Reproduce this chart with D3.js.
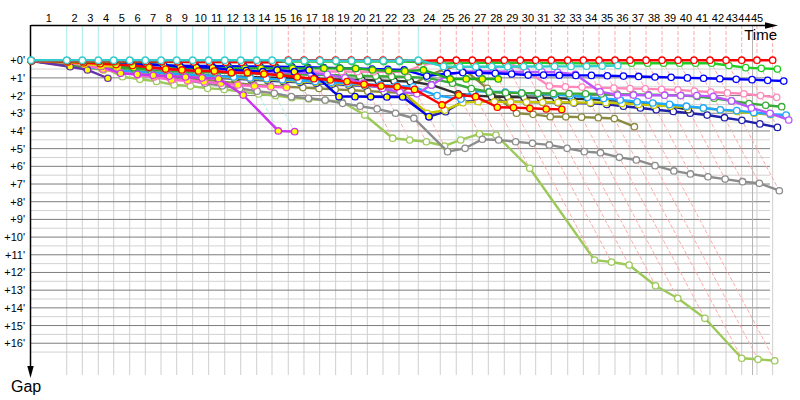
<!DOCTYPE html>
<html><head><meta charset="utf-8">
<script src="https://cdn.jsdelivr.net/npm/d3@7"></script>
<style>body{margin:0;background:#fff} svg{display:block}</style>
</head><body><svg id="c" width="800" height="400"></svg>
<script>
// Leader's cumulative time (minutes) at the end of each lap (index = lap, 0 = start)
const lapEnd = [0, 3.80, 5.46, 7.16, 8.80, 10.50, 12.16, 13.83, 15.50, 17.20, 18.90, 20.61, 22.31, 24.01, 25.64, 27.37, 29.04, 30.71, 32.41, 34.07, 35.78, 37.45, 39.15, 41.20, 43.54, 45.24, 46.95, 48.65, 50.35, 52.05, 53.69, 55.35, 57.10, 58.76, 60.43, 62.13, 63.72, 65.43, 67.13, 68.83, 70.53, 72.23, 73.94, 75.61, 77.23, 78.90];
const raceEnd = 76.76;
const lapLabels = d3.range(1, 46);
const gapTicks = d3.range(0, 17);

// Gap to leader (minutes) per lap, starting at lap 0
const gCyan = [0, 0,0,0,0,0,0,0,0,0,0,0,0,0,0, 0.03,0.03,0.03,0.03,0.03,0.03,0.03,0.03, 0, 0.35, 0.37,0.37,0.36,0.37,0.36,0.36,0.35,0.35,0.34,0.33, 0.3];
const gRed = [0.02, 0.04,0.05,0.06,0.06,0.07,0.08,0.08,0.09,0.1,0.1,0.11,0.11,0.12,0.12, 0,0,0,0,0,0,0,0, 0.05, 0,0,0,0,0,0,0,0,0,0,0,0,0,0,0,0,0,0,0,0,0,0];
const gGreen = [0.02, 0.06,0.08,0.09,0.1,0.1,0.1,0.1,0.1,0.1,0.1,0.1,0.1,0.1,0.1, 0.08,0.08,0.08,0.08,0.08,0.08,0.08,0.08, 0.1, 0.2, 0.15,0.15,0.14,0.14,0.14,0.15,0.16,0.17,0.18,0.18,0.18,0.17,0.17,0.17,0.17,0.17,0.17, 0.3,0.42,0.46,0.5];
const gBlue = [0.03, 0.15,0.2,0.22,0.24,0.26,0.28,0.3,0.31,0.32,0.33,0.34,0.35,0.36,0.37, 0.38,0.4,0.42,0.45,0.47,0.5,0.52,0.55, 0.9, 0.75, 0.7,0.72,0.74,0.78, 0.84,0.84,0.85,0.86,0.86, 0.88,0.9,0.92,0.95,0.97,1.0,1.02, 1.05,1.08,1.1,1.14,1.18];
const gViolet = [0.03, 0.2,0.25,0.3,0.35,0.4,0.45,0.5,0.55,0.58,0.6,0.62,0.64,0.66,0.68, 0.7,0.72, 0.8,1.0,1.3,1.6,1.8,1.9, 1.4, 0.84, 0.65,0.64,0.64,0.65,0.66,0.66,0.68,0.8, 1.78, 1.97,1.97,1.98,1.98,2.0,2.0,2.05, 2.3,2.7,3.0,3.38];
const gPink = [0.03, 0.2,0.25,0.3,0.35,0.4,0.45,0.5,0.52,0.55,0.57,0.59,0.6,0.62,0.62, 0.63,0.63,0.64,0.64,0.65,0.65,0.65,0.66, 0.3, 0.05,0.05,0.05,0.06,0.06, 0.6, 1.46, 1.5,1.52,1.55,1.58,1.6,1.62,1.65,1.68, 1.75,1.8,1.85,1.9,2.0,2.1];
const gGreenY = [0.03, 0.25,0.3,0.35,0.4,0.42,0.44,0.45,0.46,0.46,0.46,0.46,0.46,0.46,0.46, 0.46,0.46,0.46,0.46,0.47,0.55,0.6,0.62, 0.55, 1.06, 1.06,1.06,1.06];
const gDkGreen = [0.03, 0.3,0.35,0.4,0.45,0.5,0.55,0.6,0.65,0.68,0.7,0.72,0.74,0.76,0.78, 0.8,0.82,0.84,0.86,0.88,0.9,0.92,0.95, 1.0, 1.3, 1.6,1.8,1.84,1.86,1.87,1.88,1.89,1.9,1.91,1.92,1.93,1.95,1.97,1.99, 2.05,2.15,2.3,2.45,2.55,2.63];
const gSky = [0.03, 0.3,0.4,0.5,0.6,0.65,0.7,0.75,0.8,0.85,0.9,0.95,1.0,1.05,1.1, 1.15,1.2,1.25,1.3,1.35,1.4,1.45,1.5, 2.0, 2.2, 1.75,1.78,1.8,1.85,1.9,1.95,2.0,2.1,2.16,2.25,2.35,2.42,2.5,2.6,2.7,2.8,2.85,2.95,3.05,3.1];
const gYellow = [0.03, 0.35,0.45,0.55,0.65,0.7,0.75,0.8,0.85,0.9,0.95,1.0,1.05,1.1,1.15,1.2,1.25,1.3,1.35,1.4,1.45,1.5, 3.0, 2.82, 2.4, 2.35,2.35,2.36,2.37,2.38,2.38,2.39,2.4,2.4, 2.45,2.5,2.55,2.6,2.65,2.72,2.8,2.9,3.0,3.08,3.15];
const gNavy = [0.03, 0.3,0.4,0.5,0.6,0.7,0.8,0.85,0.9,0.95,1.0,1.05,1.1,1.15,1.2,1.25,1.3,1.35,1.4,1.45,1.5,1.55, 3.19, 2.91, 2.35, 2.3,2.32,2.34,2.36,2.38,2.4,2.42,2.44,2.5, 2.6,2.7,2.8,2.9,3.0,3.1,3.25,3.4,3.6,3.8];
const gBlack = [0.03, 0.3,0.4,0.5,0.6,0.65,0.7,0.75,0.8,0.85,0.9,0.92,0.95,0.98,1.0,1.02,1.05,1.08,1.1,1.12,1.15,1.18, 1.2, 1.4, 1.9, 2.0,2.05,2.08,2.1,2.12,2.15,2.18,2.2,2.25,2.3,2.4,2.5,2.6,2.8];
const gOlive = [0.03, 0.3,0.4,0.5,0.6,0.7,0.8,0.9,1.0,1.1,1.2,1.3,1.4,1.45,1.5,1.55,1.6,1.65,1.7,1.75,1.8,1.85, 1.4, 0.9, 0.5, 0.3, 1.59, 3.0, 3.06,3.19,3.2,3.22,3.25,3.3, 3.76];
const gGray = [0.03, 0.1,0.25,0.4,0.55,0.7,0.85,1.0,1.15,1.3,1.45,1.6,1.75, 1.87,2.06,2.15,2.25,2.44,2.6,2.75,3.0,3.28, 5.17, 4.98,4.47,4.51,4.61,4.70,4.79,4.98,5.17,5.23,5.49,5.64,5.96,6.26,6.43,6.59,6.72,6.87,6.96,7.38];
const gLime = [0.03, 0.1,0.2,0.37,0.93,1.08,1.2,1.4,1.46,1.59,1.65,1.78,1.91, 2.0,2.12,2.19,2.27,2.35,3.1, 4.41,4.51,4.61,4.85,4.51,4.17,4.23, 6.11, 11.3,11.41,11.58,12.75,13.46,14.59,16.85,16.91,16.99];
const gMagentaY = [0.03, 0.1,0.2,0.35,0.74,0.8,0.85,0.9,0.95,1.0,1.05, 1.97, 4.0, 4.04];
const gRedY = [0.03, 0.1,0.15,0.2,0.25,0.3,0.4,0.5,0.55, 0.61,0.61,0.71,0.71,0.78, 0.85,0.95,1.05,1.12,1.21,1.36,1.46,1.5,1.65, 2.53,1.97,2.06,2.66,2.68,2.72,2.76,2.78];
const gBlueY = [0.02, 0.05,0.08,0.1,0.12, 0.14,0.21,0.27,0.37,0.4,0.42,0.55,0.59,0.65, 0.55,0.65,0.55, 2.06,2.06,2.07,2.08,2.08, 3.19];
const gPurpleY = [0.05, 0.37, 0.55, 1.02];
const gPinkY = [0.03, 0.15,0.3,0.5,0.7, 0.84,0.95,1.12,1.16,1.22,1.31,1.4,1.46,1.5,1.55];
const gGoldY = [0.03, 0.12, 0.22, 0.31, 0.37];

// drawing order (bottom to top)
const seriesGaps = [gLime, gGray, gOlive, gNavy, gBlack, gYellow, gSky, gDkGreen, gPink, gViolet, gBlue, gGreenY, gPinkY, gMagentaY, gPurpleY, gBlueY, gGoldY, gRedY, gGreen, gRed, gCyan];
const seriesColors = ["#9dc85a", "#8c8c8c", "#8a8a40", "#2020a8", "#303030", "#c8c800", "#20a8ff", "#3aaa3a", "#ff88bb", "#bb55ff", "#0000ff", "#22aa22", "#ff66cc", "#cc33ee", "#6633aa", "#0000ee", "#e6d800", "#ff0000", "#22cc22", "#ff0000", "#33cccc"];
const seriesFills = ["#fff", "#fff", "#fff", "#fff", "#fff", "#fff", "#fff", "#fff", "#fff", "#fff", "#fff", "#ffff00", "#ffff00", "#ffff00", "#ffff00", "#ffff00", "#ffff00", "#ffff00", "#fff", "#fff", "#fff"];
const leaderColors = {"#ff0000": "#ffaaaa", "#33cccc": "#a8ecec"};

const svg = d3.select("#c");
const x = d3.scaleLinear().domain([0, 79.15]).range([31, 775]);
const y = d3.scaleLinear().domain([0, 18]).range([60.2, 378.6]);
const font = "'Liberation Sans', Arial, sans-serif";

// grid
const gGrid = svg.append("g");
gGrid.selectAll("line.minor").data(d3.range(0.5, 17, 1)).join("line")
  .attr("x1", x(0)).attr("x2", 770).attr("y1", d => y(d)).attr("y2", d => y(d))
  .attr("stroke", "#d2d2d2").attr("stroke-width", 1);
gGrid.selectAll("line.vert").data(lapEnd.slice(1)).join("line")
  .attr("x1", d => x(d)).attr("x2", d => x(d)).attr("y1", y(0)).attr("y2", 375)
  .attr("stroke", "#cfcfcf").attr("stroke-width", 1);
gGrid.selectAll("line.major").data(gapTicks).join("line")
  .attr("x1", x(0)).attr("x2", 770).attr("y1", d => y(d)).attr("y2", d => y(d))
  .attr("stroke", "#7d7d7d").attr("stroke-width", 1);
gGrid.append("line").attr("x1", x(raceEnd)).attr("x2", x(raceEnd)).attr("y1", 25).attr("y2", 375)
  .attr("stroke", "#b4b4b4").attr("stroke-width", 1);

// leader per lap and max gap per lap
const laps = lapEnd.slice(1).map((t, i) => {
  const n = i + 1;
  let lead = null, best = Infinity, maxG = 0;
  seriesGaps.forEach((g, s) => {
    if (g.length > n) {
      if (g[n] < best) { best = g[n]; lead = seriesColors[s]; }
      if (g[n] > maxG) maxG = g[n];
    }
  });
  return {n, t, lead: leaderColors[lead] || "#ffaaaa", maxG, cyan: lead === "#33cccc"};
});
const gLap = svg.append("g");
gLap.selectAll("line.top").data(laps).join("line")
  .attr("x1", d => x(d.t)).attr("x2", d => x(d.t)).attr("y1", 25).attr("y2", y(0))
  .attr("stroke", d => d.lead).attr("stroke-width", 1)
  .attr("stroke-dasharray", d => d.cyan ? null : "4,2");
gLap.selectAll("line.diag").data(laps).join("line")
  .attr("x1", d => x(d.t)).attr("y1", y(0))
  .attr("x2", d => x(d.t + d.maxG)).attr("y2", d => y(d.maxG))
  .attr("stroke", d => d.lead).attr("stroke-width", 1)
  .attr("stroke-dasharray", "4,2");

// axes
const ax = svg.append("g");
ax.append("line").attr("x1", x(0)).attr("x2", 768).attr("y1", 25.5).attr("y2", 25.5).attr("stroke", "#000").attr("stroke-width", 1.5);
ax.append("path").attr("d", "M765,22.3L778,25.5L765,28.7Z").attr("fill", "#000");
ax.append("line").attr("x1", 30.5).attr("x2", 30.5).attr("y1", 25).attr("y2", 368).attr("stroke", "#000").attr("stroke-width", 1.5);
ax.append("path").attr("d", "M27.3,366L30.5,378L33.7,366Z").attr("fill", "#000");

const yAxis = d3.axisLeft(y).tickValues(gapTicks).tickFormat(d => "+" + d + "'").tickSize(0).tickPadding(3);
const ya = svg.append("g").attr("transform", "translate(28,0)").call(yAxis);
ya.select(".domain").remove();
ya.selectAll("text").attr("font-family", font).attr("font-size", 11).attr("fill", "#000");

// lap labels (midpoint of each lap, pushed left near the arrow)
const lx = lapLabels.map(n => x((lapEnd[n - 1] + lapEnd[n]) / 2));
for (let i = lx.length - 1; i >= 0; i--) {
  lx[i] = Math.min(lx[i], i === lx.length - 1 ? 757 : lx[i + 1] - 12.6);
}
svg.append("g").selectAll("text").data(lapLabels).join("text")
  .attr("x", (d, i) => lx[i]).attr("y", 21.5).attr("text-anchor", "middle")
  .attr("font-family", font).attr("font-size", 11).text(d => d);

svg.append("text").attr("x", 777).attr("y", 40).attr("text-anchor", "end")
  .attr("font-family", font).attr("font-size", 15).text("Time");
svg.append("text").attr("x", 11).attr("y", 391.5)
  .attr("font-family", font).attr("font-size", 16).text("Gap");

// series
const line = d3.line().x(d => x(d.t + d.g)).y(d => y(d.g));
seriesGaps.forEach((g, s) => {
  const pts = g.map((v, n) => ({t: lapEnd[n], g: v}));
  const grp = svg.append("g");
  grp.append("path").datum(pts).attr("d", line).attr("fill", "none")
    .attr("stroke", seriesColors[s]).attr("stroke-width", 2.4).attr("stroke-linejoin", "round");
  grp.selectAll("circle").data(pts).join("circle")
    .attr("cx", d => x(d.t + d.g)).attr("cy", d => y(d.g)).attr("r", 3.2)
    .attr("fill", seriesFills[s]).attr("stroke", seriesColors[s]).attr("stroke-width", 1.3);
});
</script></body></html>
